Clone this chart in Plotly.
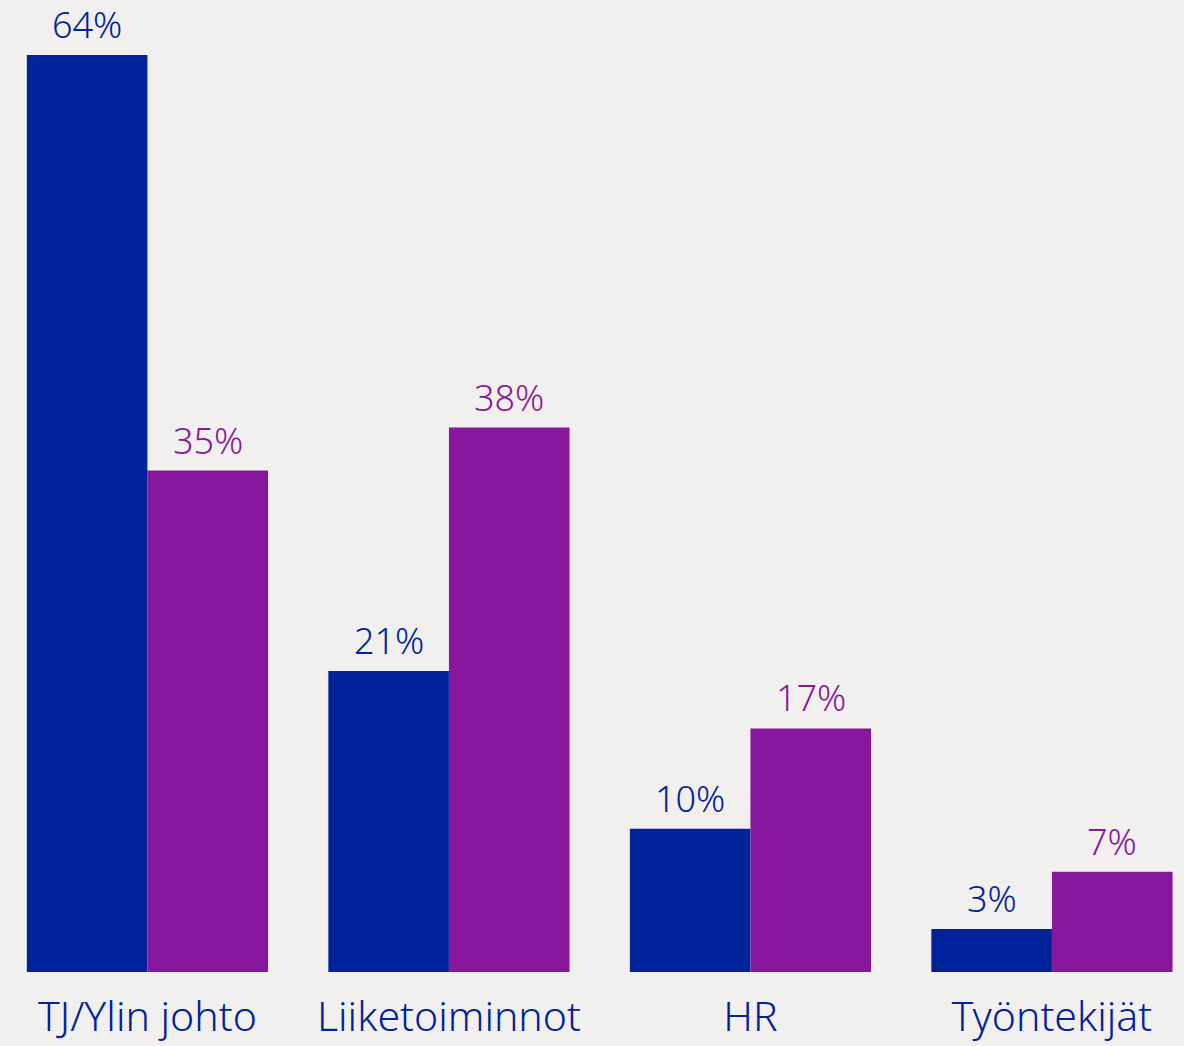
import plotly.graph_objects as go

categories = ["TJ/Ylin johto", "Liiketoiminnot", "HR", "Työntekijät"]
series_a = [64, 21, 10, 3]
series_b = [35, 38, 17, 7]
colors = ["#00239C", "#87189D"]
FONT = "Noto Sans"

fig = go.Figure()
for vals, col in [(series_a, colors[0]), (series_b, colors[1])]:
    fig.add_trace(go.Bar(x=categories, y=vals, marker=dict(color=col, line=dict(width=0)),
                         hoverinfo="skip", showlegend=False))

annotations = []
for k, (vals, col) in enumerate([(series_a, colors[0]), (series_b, colors[1])]):
    off = -0.2 if k == 0 else 0.2
    for i, v in enumerate(vals):
        annotations.append(dict(x=i + off, y=v, xref="x", yref="y", text=f"{v}%",
                                showarrow=False, yanchor="bottom", yshift=5, borderpad=0,
                                font=dict(family=FONT, size=36, color=col, weight=300)))

fig.update_layout(
    width=1184, height=1046,
    margin=dict(l=0, r=0, t=0, b=74),
    paper_bgcolor="#F2F0EE", plot_bgcolor="#F2F0EE",
    barmode="group", bargap=0.2, bargroupgap=0,
    annotations=annotations,
    xaxis=dict(range=[-0.489, 3.438], showgrid=False, zeroline=False, showline=False,
               tickfont=dict(family=FONT, size=41, color="#00239C", weight=300), ticks="",
               ticklabelstandoff=17, automargin=False),
    yaxis=dict(range=[0, 67.84], visible=False, showgrid=False, zeroline=False,
               automargin=False),
)
fig.write_html("out.html", config={"displayModeBar": False},
               post_script="document.body.style.margin='0';document.body.style.background='#F2F0EE';")
